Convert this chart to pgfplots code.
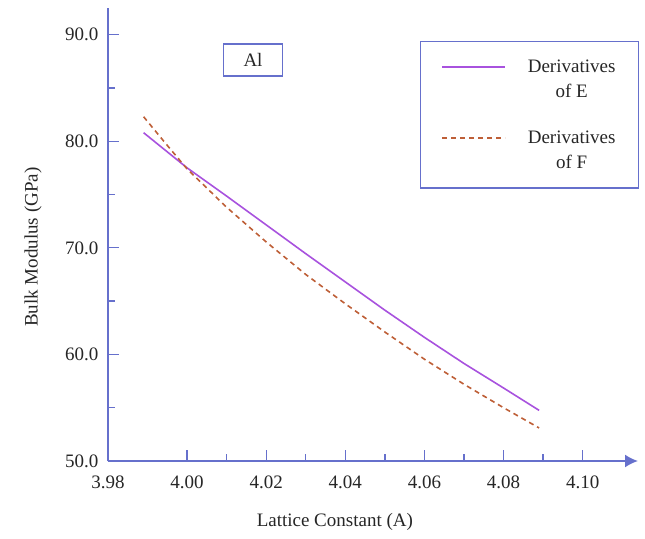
\documentclass[border=0pt]{standalone}
\usepackage{fontspec}
\setmainfont{Liberation Serif}
\usepackage{pgfplots}
\pgfplotsset{compat=1.18}
\usetikzlibrary{arrows.meta}

\definecolor{axisblue}{RGB}{102,112,204}
\definecolor{eline}{RGB}{168,82,222}
\definecolor{fline}{RGB}{190,95,55}

% Bulk modulus from derivatives of E and of F
\pgfplotstableread{
a      B
3.989  80.8
3.995  79.0
4.000  77.5
4.010  74.85
4.020  72.15
4.030  69.45
4.040  66.8
4.050  64.15
4.060  61.6
4.070  59.15
4.080  56.85
4.089  54.75
}\derivE

\pgfplotstableread{
a      B
3.989  82.3
3.995  79.6
4.000  77.4
4.010  73.8
4.020  70.55
4.030  67.5
4.040  64.75
4.050  62.1
4.060  59.55
4.070  57.2
4.080  55.0
4.089  53.1
}\derivF

\newcommand{\bigfont}{\fontsize{19pt}{25pt}\selectfont}

\begin{document}
\begin{tikzpicture}
\useasboundingbox (-108pt,-77pt) rectangle (537pt,461pt);
\begin{axis}[
  at={(0,0)}, anchor=south west,
  scale only axis, width=530pt, height=453pt,
  xmin=3.98, xmax=4.114, ymin=50, ymax=92.5,
  enlargelimits=false,
  axis x line=bottom, axis y line=left,
  axis line style={axisblue, line width=1.8pt},
  x axis line style={-{Latex[length=13pt,width=13pt]}},
  y axis line style={-},
  xtick={3.98,4.00,4.02,4.04,4.06,4.08,4.10},
  xticklabels={3.98,4.00,4.02,4.04,4.06,4.08,4.10},
  minor xtick={4.01,4.03,4.05,4.07,4.09},
  ytick={50,60,70,80,90},
  yticklabels={50.0,60.0,70.0,80.0,90.0},
  minor ytick={55,65,75,85},
  tick align=inside,
  major tick length=11pt, minor tick length=7pt,
  every tick/.style={axisblue, line width=1.3pt},
  /pgf/number format/assume math mode=true,
  tick label style={font=\bigfont, text=black!85},
  xticklabel style={yshift=-11pt},
  yticklabel style={xshift=-6pt},
  label style={font=\bigfont, text=black!85},
  xlabel={Lattice Constant (A)},
  ylabel={Bulk Modulus (GPa)},
  xlabel style={at={(axis description cs:0.428,-0.135)}, anchor=center},
  ylabel style={at={(axis description cs:-0.1415,0.472)}, anchor=center, rotate=0},
  legend style={at={(axis description cs:1.002,0.927)}, anchor=north east,
    draw=axisblue, line width=1.3pt, font=\bigfont, text=black!85,
    inner xsep=21pt, inner ysep=16pt, row sep=28pt,
    nodes={align=center},
    /tikz/every odd column/.append style={column sep=20pt}},
  legend image code/.code={\draw[#1] (0pt,12.5pt) -- (63pt,12.5pt);},
  legend cell align=center,
]
\addplot[eline, line width=1.6pt] table[x=a, y=B] {\derivE};
\addlegendentry{Derivatives\\of E}
\addplot[fline, line width=1.6pt, dash pattern=on 5pt off 4pt] table[x=a, y=B] {\derivF};
\addlegendentry{Derivatives\\of F}

\node[draw=axisblue, line width=1.3pt, minimum width=59pt, minimum height=32pt,
      font=\bigfont, text=black!85] at (axis description cs:0.2736,0.885) {Al};
\end{axis}
\end{tikzpicture}
\end{document}
